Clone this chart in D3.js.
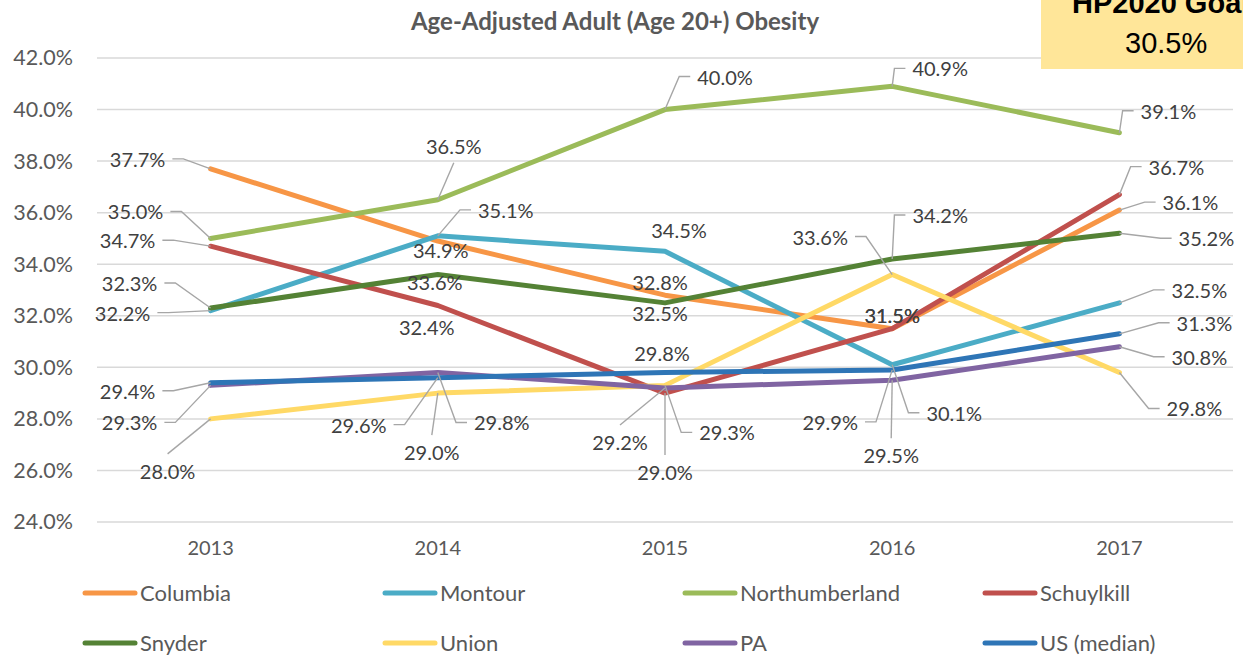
<!DOCTYPE html>
<html>
<head>
<meta charset="utf-8">
<script src="https://cdn.jsdelivr.net/npm/d3@7"></script>
<style>
  html, body { margin: 0; padding: 0; background: #fff; }
  svg { display: block; font-family: Lato, "Open Sans", sans-serif; }
</style>
</head>
<body>
<div id="chart"></div>
<script>
// values (percent)
const years = ["2013", "2014", "2015", "2016", "2017"];
const columbia = [37.7, 34.9, 32.8, 31.5, 36.1];
const montour = [32.2, 35.1, 34.5, 30.1, 32.5];
const northumberland = [35.0, 36.5, 40.0, 40.9, 39.1];
const schuylkill = [34.7, 32.4, 29.0, 31.5, 36.7];
const snyder = [32.3, 33.6, 32.5, 34.2, 35.2];
const union = [28.0, 29.0, 29.3, 33.6, 29.8];
const pa = [29.3, 29.8, 29.2, 29.5, 30.8];
const us = [29.4, 29.6, 29.8, 29.9, 31.3];
const seriesNames = ["Columbia", "Montour", "Northumberland", "Schuylkill", "Snyder", "Union", "PA", "US (median)"];
const yTickValues = [24, 26, 28, 30, 32, 34, 36, 38, 40, 42];
const goalLabel = "HP2020 Goal";
const goalValue = "30.5%";

const seriesValues = [columbia, montour, northumberland, schuylkill, snyder, union, pa, us];
const colors = ["#F79646", "#4BACC6", "#9BBB59", "#C0504D", "#548235", "#FFD966", "#8064A2", "#2E75B6"];

// where each data label was dragged to: [dx, dy, leader side]
const labelLayout = [
  [[-73, -9, "left"], [3, 10, ""], [-5, -12, ""], [0, -13, ""], [71, -7, "right"]],
  [[-88, 3, "left"], [68, -25, "right"], [14, -20, ""], [62, 49, "right"], [80, -12, "right"]],
  [[-75, -26, "left"], [16, -53, "above"], [60, -32, "right"], [48, -17, "right"], [49, -21, "right"]],
  [[-83, -5, "left"], [-11, 23, ""], [0, 80, "below"], [0, -13, ""], [57, -27, "right"]],
  [[-81, -24, "left"], [-3, 8, ""], [-5, 11, ""], [48, -43, "right"], [87, 6, "right"]],
  [[-43, 53, "below"], [-6, 60, "below"], [62, 48, "right"], [-72, -37, "left"], [75, 37, "right"]],
  [[-81, 38, "left"], [64, 51, "right"], [-45, 55, "below"], [-1, 76, "below"], [80, 11, "right"]],
  [[-83, 9, "left"], [-79, 48, "left"], [-3, -18, ""], [-62, 53, "left"], [85, -10, "right"]]
];

const width = 1243, height = 658;
const svg = d3.select("#chart").append("svg")
  .attr("width", width)
  .attr("height", height);

const x = d3.scaleBand().domain(years).range([97, 1233]);
const y = d3.scaleLinear().domain([24, 42]).range([522, 58]);
const px = d => x(d) + x.bandwidth() / 2;
const fmt = v => d3.format(".1f")(v) + "%";

// gridlines
svg.append("g")
  .selectAll("line")
  .data(yTickValues)
  .join("line")
  .attr("x1", 97).attr("x2", 1233)
  .attr("y1", d => y(d)).attr("y2", d => y(d))
  .attr("stroke", "#d9d9d9")
  .attr("stroke-width", 1.5);

// y axis labels
const yAxis = svg.append("g")
  .attr("transform", "translate(73,0)")
  .call(d3.axisLeft(y).tickValues(yTickValues).tickFormat(fmt).tickSize(0).tickPadding(0));
yAxis.select(".domain").remove();
yAxis.selectAll("text")
  .attr("fill", "#595959")
  .style("font-size", "21.5px")
  .style("font-family", "Lato, sans-serif");

// x axis labels
const xAxis = svg.append("g")
  .attr("transform", "translate(0,541)")
  .call(d3.axisBottom(x).tickSize(0).tickPadding(0));
xAxis.select(".domain").remove();
xAxis.selectAll("text")
  .attr("fill", "#595959")
  .attr("dy", "0.71em")
  .style("font-size", "20px")
  .style("font-family", "Lato, sans-serif");

// lines
const line = d3.line()
  .x((d, i) => px(years[i]))
  .y(d => y(d));

svg.append("g")
  .selectAll("path")
  .data(seriesValues)
  .join("path")
  .attr("d", line)
  .attr("fill", "none")
  .attr("stroke", (d, i) => colors[i])
  .attr("stroke-width", 5)
  .attr("stroke-linejoin", "round")
  .attr("stroke-linecap", "round");

// data labels + leader lines
const leaders = svg.append("g");
const labels = svg.append("g");
seriesValues.forEach((vals, s) => {
  vals.forEach((v, i) => {
    const [dx, dy, side] = labelLayout[s][i];
    const p = [px(years[i]), y(v)];
    const cx = p[0] + dx, cy = p[1] + dy;
    const t = labels.append("text")
      .attr("x", cx).attr("y", cy)
      .attr("dy", "0.35em")
      .attr("text-anchor", "middle")
      .attr("fill", "#404040")
      .style("font-size", "20px")
      .text(fmt(v));
    const w = t.node().getComputedTextLength();
    let pts = null;
    if (side === "right") {
      const sx = cx - w / 2 - 7;
      pts = [[sx, cy - 1], [sx - 11, cy - 1], p];
    } else if (side === "left") {
      const sx = cx + w / 2 + 7;
      pts = [[sx, cy - 1], [sx + 11, cy - 1], p];
    } else if (side === "below") {
      pts = [[cx, cy - 18], p];
    } else if (side === "above") {
      pts = [[cx, cy + 16], p];
    }
    if (pts) {
      leaders.append("path")
        .attr("d", d3.line()(pts))
        .attr("fill", "none")
        .attr("stroke", "#a6a6a6")
        .attr("stroke-width", 1.4);
    }
  });
});

// title
svg.append("text")
  .attr("x", 615).attr("y", 30)
  .attr("text-anchor", "middle")
  .attr("fill", "#595959")
  .style("font-size", "24px")
  .style("font-weight", "bold")
  .text("Age-Adjusted Adult (Age 20+) Obesity");

// legend
const legend = svg.append("g")
  .selectAll("g")
  .data(seriesNames)
  .join("g")
  .attr("transform", (d, i) => `translate(${85 + (i % 4) * 300},${593 + Math.floor(i / 4) * 50})`);
legend.append("line")
  .attr("x1", 0).attr("x2", 50)
  .attr("stroke", (d, i) => colors[i])
  .attr("stroke-width", 5)
  .attr("stroke-linecap", "round");
legend.append("text")
  .attr("x", 55)
  .attr("dy", "0.35em")
  .attr("fill", "#595959")
  .style("font-size", "22px")
  .text(d => d);

// HP2020 goal box
svg.append("rect")
  .attr("x", 1041).attr("y", 0)
  .attr("width", 260).attr("height", 69)
  .attr("fill", "#FFE699");
svg.append("text")
  .attr("x", 1072).attr("y", 13)
  .attr("fill", "#000")
  .style("font-family", "'Liberation Sans', Arial, sans-serif")
  .style("font-size", "29px")
  .style("font-weight", "bold")
  .text(goalLabel);
svg.append("text")
  .attr("x", 1125).attr("y", 53)
  .attr("fill", "#000")
  .style("font-family", "'Liberation Sans', Arial, sans-serif")
  .style("font-size", "29px")
  .text(goalValue);
</script>
</body>
</html>
